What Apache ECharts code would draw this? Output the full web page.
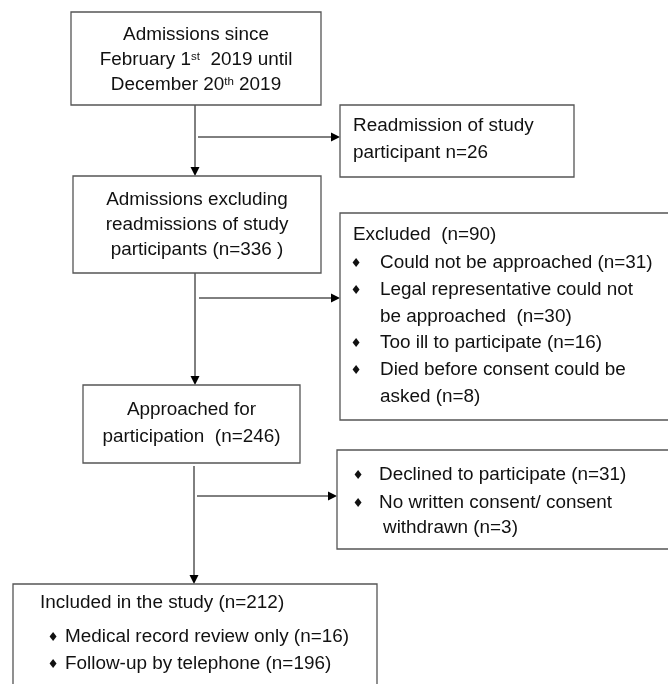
<!DOCTYPE html>
<html><head><meta charset="utf-8">
<script src="https://cdn.jsdelivr.net/npm/echarts@6/dist/echarts.min.js"></script>
<style>html,body{margin:0;padding:0;background:#fff}#c{width:668px;height:684px}</style>
</head><body><div id="c"></div>
<script>
// ---- data: flow stages and their text ----
const boxNames = ['admissions', 'readmission', 'eligible', 'excluded', 'approached', 'declined', 'included'];
const admissionsText = ['Admissions since', 'February 1{sup|st}  2019 until', 'December 20{sup|th} 2019'];
const readmissionText = ['Readmission of study', 'participant n=26'];
const eligibleText = ['Admissions excluding', 'readmissions of study', 'participants (n=336 )'];
const excludedText = ['Excluded  (n=90)', '\u2666Could not be approached (n=31)', '\u2666Legal representative could not', ' be approached  (n=30)', '\u2666Too ill to participate (n=16)', '\u2666Died before consent could be', ' asked (n=8)'];
const approachedText = ['Approached for', 'participation  (n=246)'];
const declinedText = ['\u2666Declined to participate (n=31)', '\u2666No written consent/ consent', ' withdrawn (n=3)'];
const includedText = ['Included in the study (n=212)', '\u2666Medical record review only (n=16)', '\u2666Follow-up by telephone (n=196)'];
const boxLines = [admissionsText, readmissionText, eligibleText, excludedText, approachedText, declinedText, includedText];
// connections: [from box, to box]
const arrowLinks = [[0, 2], [0, 1], [2, 4], [2, 3], [4, 6], [4, 5]];

// ---- layout (positions / styles) ----
const boxRect = [[71,12,321,105],[340,105,574,177],[73,176,321,273],[340,213,672,420],[83,385,300,463],[337,450,672,549],[13,584,377,704]];
const boxAlign = ['center','left','center','left','center','left','left'];
const lineY = [[35,60,85],[126,153],[200,225,250],[235,263,290,317,343,370,397],[410,437],[475,503,528],[603,637,664]];
// [plainX, bulletX, bulletTextX, continuationX]
const indentX = [null,[353,0,0,0],null,[353,356,380,380],null,[0,358,379,383],[40,53,65,65]];
const arrowPath = [[195,105,195,176],[198,137,340,137],[195,273,195,385],[199,298,340,298],[194,466,194,584],[197,496,337,496]];

const FONT = "'Liberation Sans', Arial, Helvetica, sans-serif";
const FS = 18.9;

function renderBox(params, api) {
  const i = api.value(0);
  const r = boxRect[i];
  const p1 = api.coord([r[0], r[1]]), p2 = api.coord([r[2], r[3]]);
  const children = [{
    type: 'rect',
    shape: {x: p1[0], y: p1[1], width: p2[0] - p1[0], height: p2[1] - p1[1]},
    style: {fill: '#fff', stroke: '#555', lineWidth: 1.3}
  }];
  boxLines[i].forEach(function (ln, j) {
    const yy = api.coord([0, lineY[i][j]])[1];
    let txt = ln, x, align = 'left';
    if (boxAlign[i] === 'center') {
      x = api.coord([(r[0] + r[2]) / 2, 0])[0];
      align = 'center';
    } else if (ln[0] === '\u2666') {
      txt = ln.slice(1);
      x = api.coord([indentX[i][2], 0])[0];
      children.push({
        type: 'text', x: api.coord([indentX[i][1], 0])[0], y: yy + 1,
        style: {text: '\u2666', fontFamily: 'DejaVu Sans', fontSize: 12.5, fill: '#111', align: 'center', verticalAlign: 'middle'}
      });
    } else if (ln[0] === ' ') {
      txt = ln.slice(1);
      x = api.coord([indentX[i][3], 0])[0];
    } else {
      x = api.coord([indentX[i][0], 0])[0];
    }
    children.push({
      type: 'text', x: x, y: yy,
      style: {
        text: txt, fontFamily: FONT, fontSize: FS, fill: '#111', align: align, verticalAlign: 'middle',
        rich: {sup: {fontFamily: FONT, fontSize: 11.5, fill: '#111', verticalAlign: 'top', lineHeight: 12}}
      }
    });
  });
  return {type: 'group', children: children};
}

function renderArrow(params, api) {
  const k = api.value(0);
  const a = arrowPath[k];
  const s = api.coord([a[0], a[1]]), e = api.coord([a[2], a[3]]);
  const dx = e[0] - s[0], dy = e[1] - s[1];
  const len = Math.sqrt(dx * dx + dy * dy);
  const ux = dx / len, uy = dy / len;
  const hl = 9, hw = 4.5;
  const bx = e[0] - ux * hl, by = e[1] - uy * hl;
  return {
    type: 'group',
    children: [
      {type: 'line', shape: {x1: s[0], y1: s[1], x2: bx, y2: by}, style: {stroke: '#000', lineWidth: 1}},
      {type: 'polygon', shape: {points: [[e[0], e[1]], [bx - uy * hw, by + ux * hw], [bx + uy * hw, by - ux * hw]]}, style: {fill: '#000'}}
    ]
  };
}

const chart = echarts.init(document.getElementById('c'), null, {renderer: 'canvas'});
chart.setOption({
  animation: false,
  backgroundColor: '#fff',
  grid: {left: 0, right: 0, top: 0, bottom: 0},
  xAxis: {type: 'value', min: 0, max: 668, show: false},
  yAxis: {type: 'value', min: 0, max: 684, inverse: true, show: false},
  series: [
    {type: 'custom', name: 'links', clip: false, renderItem: renderArrow, data: arrowLinks.map(function (l, k) { return [k, l[0], l[1]]; }), silent: true},
    {type: 'custom', name: 'boxes', clip: false, renderItem: renderBox, data: boxNames.map(function (n, i) { return [i, 0]; }), silent: true}
  ]
});
</script>
</body></html>
